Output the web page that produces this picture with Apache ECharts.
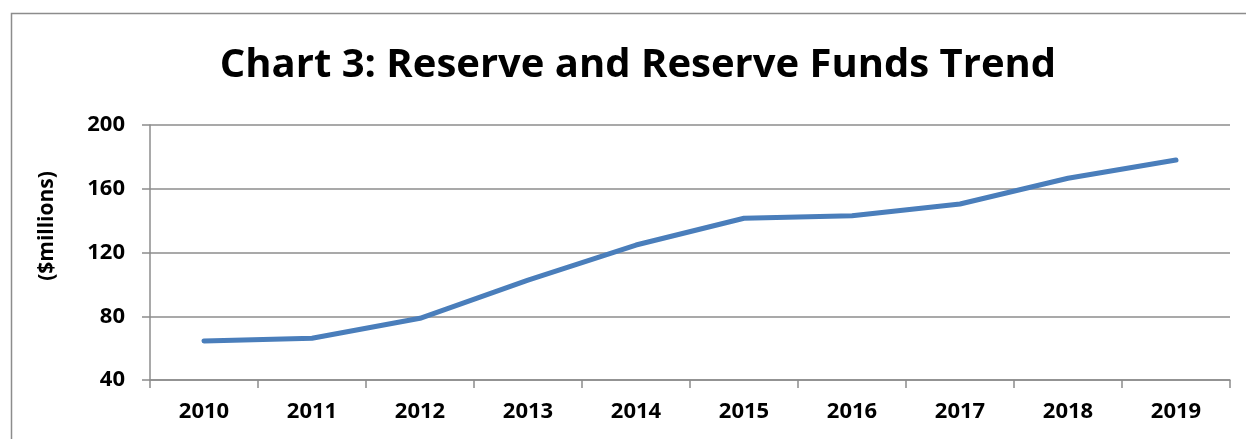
<!DOCTYPE html>
<html>
<head>
<meta charset="utf-8">
<script src="https://cdn.jsdelivr.net/npm/echarts@6/dist/echarts.min.js"></script>
<style>
html,body{margin:0;padding:0;background:#fff;}
#c{width:1246px;height:439px;}
</style>
</head>
<body>
<div id="c"></div>
<script>
const titleText = "Chart 3: Reserve and Reserve Funds Trend";
const yAxisName = "($millions)";
const years = ["2010","2011","2012","2013","2014","2015","2016","2017","2018","2019"];
const reserveValues = [64.5, 66.2, 78.7, 102.7, 124.7, 141.5, 143.1, 150.4, 166.6, 178];
const yMin = 40, yMax = 200, yStep = 40;

const chart = echarts.init(document.getElementById('c'), null, {renderer:'canvas'});
const font = '"Open Sans", "Noto Sans", sans-serif';
chart.setOption({
  animation:false,
  backgroundColor:'#fff',
  graphic:[{
    type:'rect', silent:true, z:-1,
    shape:{x:11.5,y:13.5,width:1400,height:600},
    style:{fill:'none',stroke:'#8c8c8c',lineWidth:1.5}
  },{
    type:'text', silent:true, x:47, y:226, rotation:Math.PI/2,
    style:{text:yAxisName, fontFamily:font, fontWeight:'bold', fontSize:21, fill:'#000',
           align:'center', verticalAlign:'middle'}
  }],
  title:{
    text:titleText, left:633, textAlign:'center', top:41,
    textStyle:{fontFamily:font,fontWeight:'bold',fontSize:40,color:'#000'}
  },
  grid:{left:150,right:16,top:125,bottom:59,containLabel:false},
  xAxis:{
    type:'category', data:years, boundaryGap:true,
    axisLine:{lineStyle:{color:'#8c8c8c',width:1.5}},
    axisTick:{show:true,alignWithLabel:false,length:8,lineStyle:{color:'#8c8c8c',width:1.5}},
    axisLabel:{margin:21,fontFamily:font,fontWeight:'bold',fontSize:22,color:'#000'},
    splitLine:{show:false}
  },
  yAxis:{
    type:'value', min:yMin, max:yMax, interval:yStep,
    axisLine:{show:true,lineStyle:{color:'#8c8c8c',width:1.5}},
    axisTick:{show:true,length:8,lineStyle:{color:'#8c8c8c',width:1.5}},
    axisLabel:{margin:25,fontFamily:font,fontWeight:'bold',fontSize:22,color:'#000'},
    splitLine:{show:true,lineStyle:{color:'#8c8c8c',width:1.5}}
  },
  series:[{
    type:'line', data:reserveValues, symbol:'none',
    lineStyle:{color:'#4a7ebb',width:5,cap:'round',join:'round'},
    itemStyle:{color:'#4a7ebb'}
  }]
});
</script>
</body>
</html>
